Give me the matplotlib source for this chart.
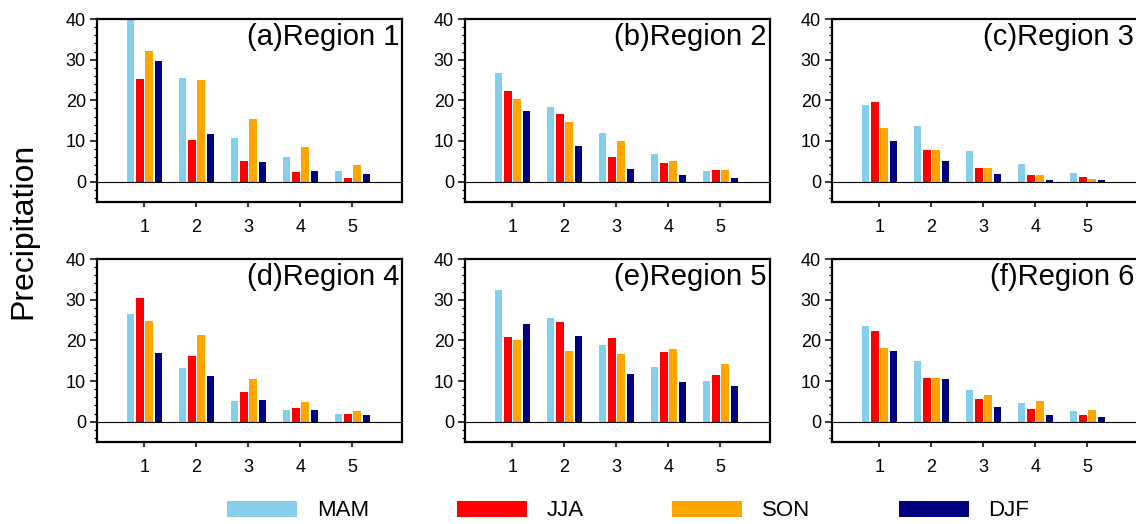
import matplotlib
matplotlib.use("Agg")
import matplotlib.pyplot as plt
import numpy as np
from matplotlib.ticker import MultipleLocator

plt.rcParams['font.family'] = ['Liberation Sans', 'DejaVu Sans']

# values
groups = [1, 2, 3, 4, 5]
seasons = ["MAM", "JJA", "SON", "DJF"]
colors = ["#87CEEB", "#FF0000", "#FFA500", "#000080"]
titles = ["(a)Region 1", "(b)Region 2", "(c)Region 3",
          "(d)Region 4", "(e)Region 5", "(f)Region 6"]

region1 = {"MAM": [40.0, 25.6, 10.7, 6.1, 2.5],
           "JJA": [25.2, 10.3, 5.1, 2.45, 0.8],
           "SON": [32.2, 25.0, 15.5, 8.6, 4.1],
           "DJF": [29.6, 11.6, 4.8, 2.7, 1.9]}
region2 = {"MAM": [26.7, 18.3, 11.9, 6.9, 2.5],
           "JJA": [22.2, 16.6, 6.1, 4.7, 2.9],
           "SON": [20.4, 14.7, 10.0, 5.0, 2.9],
           "DJF": [17.4, 8.8, 3.0, 1.6, 0.8]}
region3 = {"MAM": [18.8, 13.7, 7.6, 4.3, 2.1],
           "JJA": [19.5, 7.7, 3.3, 1.7, 1.1],
           "SON": [13.2, 7.9, 3.4, 1.6, 0.7],
           "DJF": [10.1, 5.2, 1.9, 0.4, 0.4]}
region4 = {"MAM": [26.5, 13.2, 5.2, 2.9, 1.8],
           "JJA": [30.3, 16.1, 7.2, 3.4, 1.8],
           "SON": [24.8, 21.3, 10.6, 4.9, 2.6],
           "DJF": [16.8, 11.2, 5.4, 2.9, 1.7]}
region5 = {"MAM": [32.4, 25.5, 18.8, 13.5, 10.1],
           "JJA": [20.7, 24.5, 20.5, 17.1, 11.5],
           "SON": [20.2, 17.4, 16.7, 17.9, 14.1],
           "DJF": [24.0, 21.1, 11.6, 9.7, 8.7]}
region6 = {"MAM": [23.6, 14.9, 7.9, 4.6, 2.6],
           "JJA": [22.3, 10.7, 5.6, 3.0, 1.7],
           "SON": [18.2, 10.7, 6.5, 5.2, 2.9],
           "DJF": [17.4, 10.4, 3.6, 1.7, 1.2]}
regions = [region1, region2, region3, region4, region5, region6]

W, H = 1136, 524
fig = plt.figure(figsize=(W / 100, H / 100), dpi=100)

# panel boxes in pixels (left, top)
lefts = [97, 465, 832]
tops = [19, 259]
pw, ph = 305, 183

pitch = 0.177
bw = 0.14
x = np.array(groups, dtype=float)

handles = []
for i, reg in enumerate(regions):
    row, col = i // 3, i % 3
    l, t = lefts[col], tops[row]
    ax = fig.add_axes([l / W, 1 - (t + ph) / H, pw / W, ph / H])
    for k, s in enumerate(seasons):
        b = ax.bar(x + (k - 1.5) * pitch, reg[s], width=bw, color=colors[k],
                   edgecolor="none", label=s, zorder=2)
        if i == 0:
            handles.append(b)
    ax.axhline(0, color="black", lw=0.8, zorder=3)
    ax.set_xlim(0.087, 5.952)
    ax.set_ylim(-5, 40)
    ax.set_xticks(groups)
    ax.set_yticks([0, 10, 20, 30, 40])
    ax.yaxis.set_minor_locator(MultipleLocator(2))
    ax.tick_params(axis="y", which="major", direction="out", length=5,
                   width=1.1, labelsize=13, pad=3)
    ax.tick_params(axis="y", which="minor", direction="out", length=2.5,
                   width=0.9)
    ax.tick_params(axis="x", direction="out", length=3.6, width=1.1,
                   labelsize=13, pad=9)
    for sp in ax.spines.values():
        sp.set_linewidth(1.6)
    ax.text(0.99, 0.858, titles[i], transform=ax.transAxes, ha="right",
            va="baseline", fontsize=21)

fig.text(23 / W, 1 - 231 / H, "Precipitation", rotation=90, ha="center",
         va="center", fontsize=23)

fig.legend(handles=handles, labels=seasons, loc="center",
           bbox_to_anchor=(0.553, 1 - 511 / H), ncol=4, frameon=False,
           fontsize=16, handlelength=3.15, handleheight=0.72,
           handletextpad=0.9, columnspacing=3.96, borderpad=0, borderaxespad=0)

fig.savefig("out.png", dpi=100)
